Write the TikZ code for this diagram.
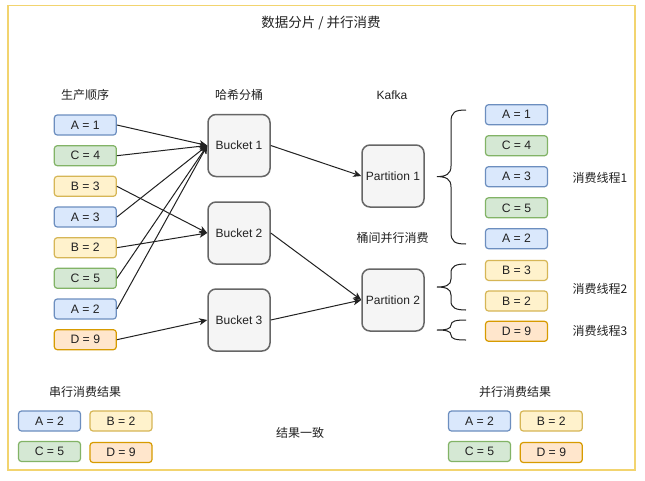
\documentclass[tikz,border=0pt]{standalone}
\usepackage{fontspec}
\setmainfont{Liberation Sans}
\newfontfamily\cjk{Noto Sans CJK SC}
\usetikzlibrary{arrows.meta}
\definecolor{bF}{HTML}{DAE8FC}\definecolor{bS}{HTML}{6C8EBF}
\definecolor{gF}{HTML}{D5E8D4}\definecolor{gS}{HTML}{82B366}
\definecolor{yF}{HTML}{FFF2CC}\definecolor{yS}{HTML}{D6B656}
\definecolor{oF}{HTML}{FFE6CC}\definecolor{oS}{HTML}{D79B00}
\definecolor{kF}{HTML}{F5F5F5}\definecolor{kS}{HTML}{666666}
\definecolor{frm}{HTML}{F2D46F}
\definecolor{txt}{HTML}{222222}
\begin{document}
\begin{tikzpicture}[x=1pt,y=-1pt,
  lbl/.style={text=txt, inner sep=1pt, font=\cjk\fontsize{12}{14}\selectfont},
  val/.style={rounded corners=3pt, line width=1.2pt, minimum width=62pt, minimum height=20pt, inner sep=0pt, text=txt, font=\fontsize{12.2}{14}\selectfont},
  vb/.style={val, fill=bF, draw=bS},
  vg/.style={val, fill=gF, draw=gS},
  vy/.style={val, fill=yF, draw=yS},
  vo/.style={val, fill=oF, draw=oS},
  bigbox/.style={rounded corners=8pt, line width=1.5pt, fill=kF, draw=kS, minimum width=62pt, minimum height=62pt, inner sep=0pt, text=txt, font=\fontsize{12}{14}\selectfont},
  conn/.style={draw=txt, line width=1pt, -{Stealth[length=8pt,width=7pt,inset=2.2pt]}},
  brace/.style={draw=txt, line width=1pt}
]
\useasboundingbox (0,0) rectangle (645,480);
\fill[white] (0,0) rectangle (645,480);
\draw[frm, line width=1.5pt] (8,5.5) rectangle (635,470);

\node[lbl, font=\cjk\fontsize{13.5}{15}\selectfont] (title) at (321,23) {数据分片 / 并行消费};
\node[lbl] (hprod) at (85,95) {生产顺序};
\node[lbl] (hhash) at (239,95) {哈希分桶};
\node[lbl, font=\fontsize{12}{14}\selectfont] (hkafka) at (392,95) {Kafka};

% producer order
\node[vb] (l1) at (85.3,125) {A = 1};
\node[vg] (l2) at (85.3,155.7) {C = 4};
\node[vy] (l3) at (85.3,186.3) {B = 3};
\node[vb] (l4) at (85.3,217) {A = 3};
\node[vy] (l5) at (85.3,247.7) {B = 2};
\node[vg] (l6) at (85.3,278.3) {C = 5};
\node[vb] (l7) at (85.3,309) {A = 2};
\node[vo] (l8) at (85.3,339.7) {D = 9};

% buckets
\node[bigbox] (b1) at (239,145.5) {Bucket 1};
\node[bigbox] (b2) at (239,233) {Bucket 2};
\node[bigbox] (b3) at (239,320) {Bucket 3};

% partitions
\node[bigbox] (p1) at (393,176) {Partition 1};
\node[bigbox] (p2) at (393,300) {Partition 2};
\node[lbl] (between) at (392.6,238.3) {桶间并行消费};

% arrows
\draw[conn] (l1.east) -- (b1.west);
\draw[conn] (l2.east) -- (b1.west);
\draw[conn] (l3.east) -- (b2.west);
\draw[conn] (l4.east) -- (b1.west);
\draw[conn] (l5.east) -- (b2.west);
\draw[conn] (l6.east) -- (b1.west);
\draw[conn] (l7.east) -- (b1.west);
\draw[conn] (l8.east) -- (b3.west);
\draw[conn] (b1.east) -- (p1.west);
\draw[conn] (b2.east) -- (p2.west);
\draw[conn] (b3.east) -- (p2.west);

% consumer side
\node[vb] (r1) at (516.5,114.7) {A = 1};
\node[vg] (r2) at (516.5,145.7) {C = 4};
\node[vb] (r3) at (516.5,176.7) {A = 3};
\node[vg] (r4) at (516.5,207.8) {C = 5};
\node[vb] (r5) at (516.5,238.7) {A = 2};
\node[vy] (r6) at (516.5,270.4) {B = 3};
\node[vy] (r7) at (516.5,301) {B = 2};
\node[vo] (r8) at (516.5,331.3) {D = 9};

% braces
\draw[brace] (466,110) .. controls (455,110) and (451,112) .. (451,122) -- (451,166)
  .. controls (451,174) and (446,176.6) .. (437,176.6)
  .. controls (446,176.6) and (451,179) .. (451,187) -- (451,232)
  .. controls (451,242) and (455,244) .. (466,244);
\draw[brace] (466,264) .. controls (456,264) and (451,266) .. (451,273) -- (451,279)
  .. controls (451,285) and (446,287) .. (437,287)
  .. controls (446,287) and (451,289) .. (451,295) -- (451,301)
  .. controls (451,308) and (456,310) .. (466,310);
\draw[brace] (466,320) .. controls (456,320) and (451,321) .. (451,325)
  .. controls (451,329) and (446,330) .. (437,330)
  .. controls (446,330) and (451,331) .. (451,335)
  .. controls (451,339) and (456,340) .. (466,340);

\node[lbl] (t1) at (600,178) {消费线程1};
\node[lbl] (t2) at (600,289) {消费线程2};
\node[lbl] (t3) at (600,331) {消费线程3};

% results
\node[lbl] (serial) at (85,392) {串行消费结果};
\node[vb] (s1) at (49.5,421) {A = 2};
\node[vy] (s2) at (121,421) {B = 2};
\node[vg] (s3) at (49.5,451.5) {C = 5};
\node[vo] (s4) at (121,452.5) {D = 9};

\node[lbl] (same) at (300,433) {结果一致};

\node[lbl] (parallel) at (515,392) {并行消费结果};
\node[vb] (q1) at (479.5,421) {A = 2};
\node[vy] (q2) at (551.3,421) {B = 2};
\node[vg] (q3) at (479.5,451.5) {C = 5};
\node[vo] (q4) at (551.3,452.5) {D = 9};
\end{tikzpicture}
\end{document}
